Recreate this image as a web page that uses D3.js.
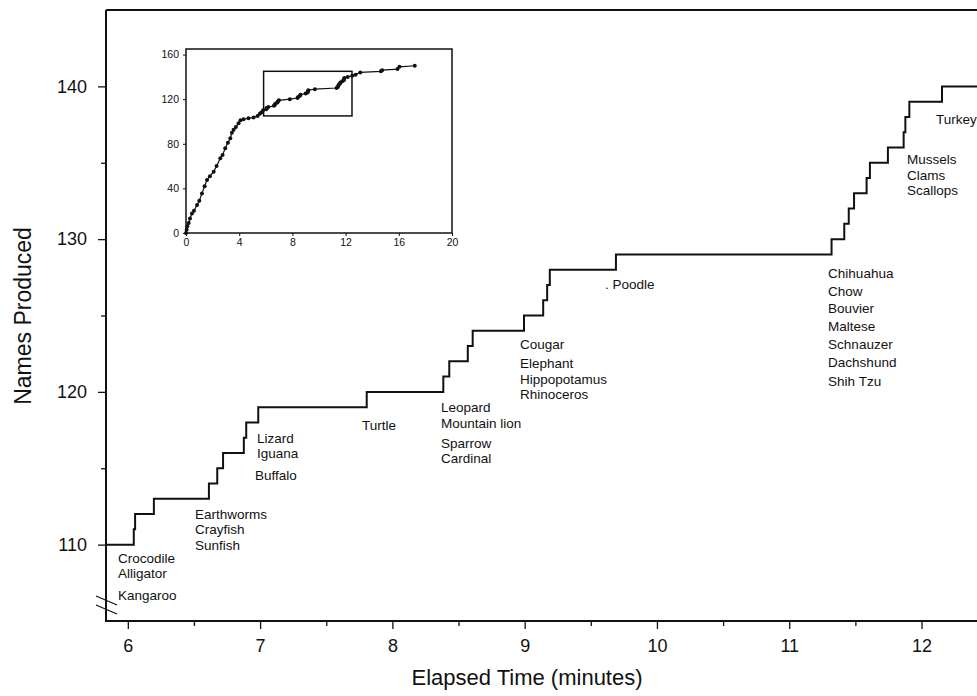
<!DOCTYPE html>
<html>
<head>
<meta charset="utf-8">
<script src="https://cdn.jsdelivr.net/npm/d3@7"></script>
<style>
body { margin: 0; background: #fff; }
svg text { font-family: "Liberation Sans", Arial, sans-serif; fill: #111; }
</style>
</head>
<body>
<div id="chart"></div>
<script>
// cumulative names produced (step after each name)
var stepTimes  = [5.8, 6.045, 6.055, 6.197, 6.613, 6.676, 6.72, 6.877, 6.895, 6.986,
                  7.806, 8.385, 8.43, 8.57, 8.607, 8.995, 9.14, 9.17, 9.19, 9.69,
                  11.32, 11.416, 11.45, 11.49, 11.585, 11.61, 11.746, 11.865, 11.878, 11.908, 12.155];
var stepCounts = [110, 111, 112, 113, 114, 115, 116, 117, 118, 119,
                  120, 121, 122, 123, 124, 125, 126, 127, 128, 129,
                  130, 131, 132, 133, 134, 135, 136, 137, 138, 139, 140];

var xTicks = [6, 7, 8, 9, 10, 11, 12];
var yTicks = [110, 120, 130, 140];

// annotation text, anchored in data units (time, count) at the baseline start
var noteText = ["Crocodile", "Alligator", "Kangaroo", "Earthworms", "Crayfish", "Sunfish",
                "Lizard", "Iguana", "Buffalo", "Turtle", "Leopard", "Mountain lion",
                "Sparrow", "Cardinal", "Cougar", "Elephant", "Hippopotamus", "Rhinoceros",
                ". Poodle", "Turkey", "Mussels", "Clams", "Scallops",
                "Chihuahua", "Chow", "Bouvier", "Maltese", "Schnauzer", "Dachshund", "Shih Tzu"];
var noteTime  = [5.926, 5.926, 5.926, 6.508, 6.508, 6.508,
                 6.977, 6.977, 6.962, 7.770, 8.368, 8.368,
                 8.368, 8.368, 8.965, 8.965, 8.965, 8.965,
                 9.608, 12.110, 11.891, 11.891, 11.891,
                 11.294, 11.294, 11.294, 11.294, 11.294, 11.294, 11.294];
var noteCount = [108.80, 107.82, 106.37, 111.68, 110.70, 109.65,
                 116.65, 115.67, 114.23, 117.50, 118.68, 117.64,
                 116.33, 115.34, 122.81, 121.56, 120.52, 119.53,
                 126.73, 137.54, 134.92, 133.87, 132.89,
                 127.45, 126.28, 125.16, 123.99, 122.81, 121.63, 120.38];

// inset: whole session, before and after the zoomed window
var insetEarlyTimes  = [0, 0.05, 0.1, 0.2, 0.3, 0.45, 0.6, 0.83, 1.0, 1.2, 1.4, 1.58, 1.8, 2.08, 2.3,
                        2.58, 2.75, 2.95, 3.15, 3.33, 3.45, 3.58, 3.75, 3.95, 4.1, 4.33, 4.7, 5.08, 5.38, 5.55, 5.66];
var insetEarlyCounts = [0, 3, 6, 9, 13, 17.5, 20, 25, 29, 35.5, 42, 47.5, 51, 55, 60,
                        67, 70, 76, 81, 85, 90, 92.5, 95, 98.5, 101, 102, 103, 103.5, 105, 107, 108];
var insetLateTimes   = [12.5, 12.75, 13.1, 14.65, 14.75, 15.9, 16.05, 17.2];
var insetLateCounts  = [141, 142, 144, 145, 146, 147, 149, 150];
var insetXTicks = [0, 4, 8, 12, 16, 20];
var insetYTicks = [0, 40, 80, 120, 160];

var W = 977, H = 696;
var xMin = 5.835, xMax = 12.48;

var svg = d3.select("#chart").append("svg").attr("width", W).attr("height", H);

var x = d3.scaleLinear().domain([xMin, xMax]).range([106, 985]);
var y = d3.scaleLinear().domain([105, 145]).range([621, 10]);

svg.append("clipPath").attr("id", "plot-clip")
  .append("rect").attr("x", 106).attr("y", 10).attr("width", 879).attr("height", 611);

// axes
var xAxis = svg.append("g").attr("transform", "translate(0,621)")
    .call(d3.axisBottom(x).tickValues(xTicks).tickSize(8).tickPadding(10).tickFormat(d3.format("d")));
svg.append("g").attr("transform", "translate(0,621)")
    .call(d3.axisBottom(x).tickValues(d3.range(6.5, 12.5, 1)).tickSize(5).tickFormat(""));
var yAxis = svg.append("g").attr("transform", "translate(106,0)")
    .call(d3.axisLeft(y).tickValues(yTicks).tickSize(8).tickPadding(11).tickFormat(d3.format("d")));
svg.append("g").attr("transform", "translate(106,0)")
    .call(d3.axisLeft(y).tickValues([115, 125, 135]).tickSize(5).tickFormat(""));

svg.selectAll(".domain").remove();
svg.selectAll(".tick line").attr("stroke", "#111").attr("stroke-width", 1.3);
xAxis.selectAll("text").attr("font-size", 18);
yAxis.selectAll("text").attr("font-size", 18);

// frame: left, bottom, top (right side runs off the page)
svg.append("path")
    .attr("d", "M106,10V621H985M106,10H985")
    .attr("fill", "none").attr("stroke", "#111").attr("stroke-width", 2);

// axis break
[0, 9].forEach(function(off) {
  svg.append("line")
      .attr("x1", 96).attr("y1", 596 + off).attr("x2", 117).attr("y2", 605 + off)
      .attr("stroke", "#111").attr("stroke-width", 1.3);
});

svg.append("text")
    .attr("x", 527).attr("y", 685).attr("text-anchor", "middle")
    .attr("font-size", 22).text("Elapsed Time (minutes)");
svg.append("text")
    .attr("transform", "translate(31,316) rotate(-90)").attr("text-anchor", "middle")
    .attr("font-size", 23).text("Names Produced");

// step line
var stepPts = stepTimes.map(function(t, i) { return [t, stepCounts[i]]; });
stepPts.push([xMax, stepCounts[stepCounts.length - 1]]);

var stepLine = d3.line()
    .x(function(d) { return x(d[0]); })
    .y(function(d) { return y(d[1]); })
    .curve(d3.curveStepAfter);

svg.append("path")
    .datum(stepPts)
    .attr("clip-path", "url(#plot-clip)")
    .attr("fill", "none").attr("stroke", "#111").attr("stroke-width", 2)
    .attr("d", stepLine);

// annotations
svg.append("g").selectAll("text")
    .data(noteText)
    .enter().append("text")
    .attr("x", function(d, i) { return x(noteTime[i]); })
    .attr("y", function(d, i) { return y(noteCount[i]); })
    .attr("font-size", 13.5)
    .text(function(d) { return d; });

// inset
var xi = d3.scaleLinear().domain([0, 20]).range([186, 452]);
var yi = d3.scaleLinear().domain([0, 165]).range([233, 49]);

var inset = svg.append("g");
inset.append("rect")
    .attr("x", 186).attr("y", 49).attr("width", 266).attr("height", 184)
    .attr("fill", "#fff").attr("stroke", "#111").attr("stroke-width", 1.5);

var ixAxis = inset.append("g").attr("transform", "translate(0,233)")
    .call(d3.axisBottom(xi).tickValues(insetXTicks).tickSize(3).tickPadding(3));
var iyAxis = inset.append("g").attr("transform", "translate(186,0)")
    .call(d3.axisLeft(yi).tickValues(insetYTicks).tickSize(3).tickPadding(4));
inset.selectAll(".domain").remove();
inset.selectAll(".tick line").attr("stroke", "#111");
ixAxis.selectAll("text").attr("font-size", 10.5);
iyAxis.selectAll("text").attr("font-size", 10.5);

var insetPts = insetEarlyTimes.map(function(t, i) { return [t, insetEarlyCounts[i]]; })
    .concat(stepTimes.map(function(t, i) { return [t, stepCounts[i]]; }))
    .concat(insetLateTimes.map(function(t, i) { return [t, insetLateCounts[i]]; }));

inset.append("path")
    .datum(insetPts)
    .attr("fill", "none").attr("stroke", "#111").attr("stroke-width", 1.2)
    .attr("d", d3.line().x(function(d) { return xi(d[0]); }).y(function(d) { return yi(d[1]); }));

inset.selectAll("circle")
    .data(insetPts)
    .enter().append("circle")
    .attr("cx", function(d) { return xi(d[0]); })
    .attr("cy", function(d) { return yi(d[1]); })
    .attr("r", 2)
    .attr("fill", "#111");

// zoom window of the main panel
inset.append("rect")
    .attr("x", xi(xMin)).attr("y", yi(145))
    .attr("width", xi(xMax) - xi(xMin)).attr("height", yi(105) - yi(145))
    .attr("fill", "none").attr("stroke", "#111").attr("stroke-width", 1.5);
</script>
</body>
</html>
